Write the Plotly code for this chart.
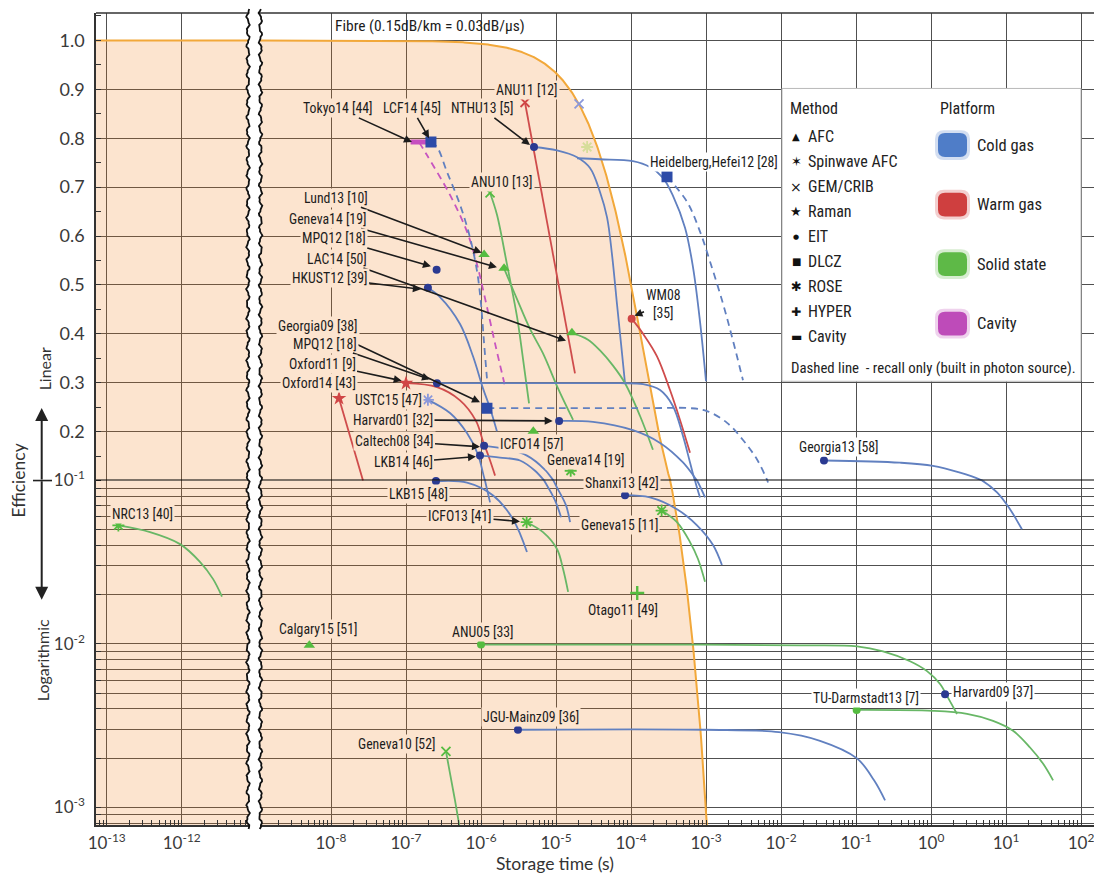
import math
import numpy as np
import plotly.graph_objects as go

# ---------------------------------------------------------------------------
# Data: storage time (s) and efficiency; the first point of each list is the
# experiment's reported marker, the rest trace its decay curve.
# ---------------------------------------------------------------------------
FIBRE_DB_PER_US = 0.03          # 0.15 dB/km  ==  0.03 dB/us

tokyo14_t = [1.49e-7, 1.91e-7, 3.86e-7, 6.5e-7, 8.85e-7, 1.1e-6, 1.54e-6, 2.09e-6]
tokyo14_eta = [0.792, 0.765, 0.684, 0.609, 0.542, 0.481, 0.380, 0.293]

lcf14_t = [2.15e-7, 2.59e-7, 3.52e-7, 5.25e-7, 7.13e-7, 8.85e-7, 1.0e-6, 1.1e-6, 1.2e-6]
lcf14_eta = [0.792, 0.782, 0.731, 0.664, 0.597, 0.528, 0.461, 0.380, 0.309]

nthu13_t = [5.09e-6, 1.03e-5, 1.91e-5, 2.84e-5, 3.86e-5, 4.79e-5, 5.58e-5, 6.5e-5, 7.36e-5, 8.32e-5]
nthu13_eta = [0.782, 0.775, 0.761, 0.739, 0.690, 0.638, 0.562, 0.461, 0.380, 0.299]

anu11_t = [3.86e-6, 1.79e-5]
anu11_eta = [0.873, 0.319]

anu_cold_t = [2.03e-5]
anu_cold_eta = [0.870]

faded_t = [2.6e-5]
faded_eta = [0.782]

heidelberg_t = [1.91e-5, 3.86e-5, 1.06e-4, 1.79e-4, 2.67e-4, 3.63e-4, 5.25e-4, 6.71e-4, 8.32e-4, 1.0e-3]
heidelberg_eta = [0.759, 0.757, 0.753, 0.741, 0.719, 0.682, 0.617, 0.536, 0.425, 0.303]

hefei12_t = [3.02e-4, 5.58e-4, 8.32e-4, 1.13e-3, 1.69e-3, 2.29e-3, 3.11e-3]
hefei12_eta = [0.721, 0.670, 0.609, 0.548, 0.461, 0.386, 0.305]

anu10_t = [1.32e-6, 1.63e-6, 2.22e-6, 3.02e-6, 3.63e-6, 4.37e-6]
anu10_eta = [0.688, 0.644, 0.542, 0.435, 0.349, 0.258]

lund13_t = [1.1e-6]
lund13_eta = [0.562]

geneva14_t = [2.03e-6, 3.02e-6, 4.5e-6, 6.71e-6, 1.06e-5, 1.69e-5]
geneva14_eta = [0.534, 0.471, 0.410, 0.360, 0.289, 0.224]

mpq12a_t = [2.56e-7]
mpq12a_eta = [0.531]

lac14_t = [1.63e-5, 2.67e-5, 3.86e-5, 5.75e-5, 8.32e-5, 1.32e-4, 1.96e-4]
lac14_eta = [0.402, 0.388, 0.366, 0.335, 0.299, 0.232, 0.163]

hkust12_t = [1.96e-7, 2.84e-7, 5.25e-7, 7.82e-7, 1.06e-6, 1.32e-6, 1.63e-6]
hkust12_eta = [0.494, 0.475, 0.420, 0.354, 0.289, 0.248, 0.201]

wm08_t = [1.02e-4, 1.45e-4, 2.22e-4, 3.31e-4, 4.5e-4, 6.12e-4]
wm08_eta = [0.431, 0.400, 0.354, 0.285, 0.224, 0.157]

georgia09_t = [1.2e-6, 1.13e-5, 1.79e-4, 6.12e-4, 1.03e-3, 1.91e-3, 3.11e-3, 4.79e-3, 6.71e-3]
georgia09_eta = [0.248, 0.248, 0.248, 0.248, 0.242, 0.218, 0.183, 0.143, 0.0972]

mpq12b_t = [2.59e-7, 1.79e-6, 1.13e-5, 7.13e-5, 1.45e-4, 2.44e-4, 3.63e-4, 4.93e-4, 6.12e-4, 7.13e-4, 8.32e-4]
mpq12b_eta = [0.299, 0.299, 0.299, 0.299, 0.297, 0.285, 0.252, 0.191, 0.137, 0.100, 0.0788]

oxford11_t = [1.0e-7, 2.59e-7, 5.25e-7, 8.57e-7, 1.06e-6, 1.28e-6, 1.54e-6]
oxford11_eta = [0.299, 0.291, 0.264, 0.222, 0.181, 0.147, 0.110]

oxford14_t = [1.28e-8, 2.67e-8]
oxford14_eta = [0.268, 0.100]

ustc15_t = [1.96e-7, 3.86e-7, 6.5e-7, 9.12e-7, 1.13e-6, 1.32e-6]
ustc15_eta = [0.265, 0.238, 0.197, 0.153, 0.100, 0.0735]

harvard01_t = [1.1e-5, 3.11e-5, 1.06e-4, 2.44e-4, 4.93e-4, 7.59e-4, 9.7e-4]
harvard01_eta = [0.222, 0.220, 0.203, 0.177, 0.137, 0.100, 0.0788]

icfo14_t = [4.98e-6]
icfo14_eta = [0.201]

caltech08_t = [1.1e-6, 2.09e-6, 4.1e-6, 7.13e-6, 1.03e-5, 1.36e-5, 1.54e-5]
caltech08_eta = [0.171, 0.165, 0.151, 0.122, 0.0906, 0.0705, 0.0556]

lkb14_t = [9.7e-7, 1.79e-6, 3.31e-6, 5.25e-6, 7.59e-6, 9.7e-6, 1.17e-5]
lkb14_eta = [0.151, 0.147, 0.141, 0.120, 0.0933, 0.0756, 0.0596]

geneva14b_t = [1.57e-5]
geneva14b_eta = [0.120]

lkb15_t = [2.51e-7, 6.5e-7, 1.45e-6, 2.67e-6, 4.1e-6]
lkb15_eta = [0.099, 0.0972, 0.081, 0.058, 0.0365]

shanxi13_t = [8.32e-5, 1.79e-4, 4.1e-4, 7.59e-4, 1.24e-3, 1.63e-3]
shanxi13_eta = [0.0814, 0.0788, 0.0667, 0.0532, 0.0403, 0.0304]

geneva15_t = [2.56e-4, 4.1e-4, 6.12e-4, 7.82e-4, 9.7e-4]
geneva15_eta = [0.0655, 0.0556, 0.042, 0.0331, 0.024]

icfo13_t = [4.06e-6, 6.71e-6, 1.03e-5, 1.24e-5, 1.45e-5]
icfo13_eta = [0.0556, 0.0483, 0.0381, 0.0288, 0.0208]

georgia13_t = [0.0374, 0.386, 1.06, 2.44, 4.5, 7.59, 11.3, 16.3]
georgia13_eta = [0.141, 0.1365, 0.130, 0.116, 0.102, 0.0846, 0.0667, 0.0503]

nrc13_t = [1.43e-13, 3.78e-13, 9.5e-13, 1.75e-12, 2.61e-12, 3.44e-12]
nrc13_eta = [0.0531, 0.0483, 0.0408, 0.0318, 0.025, 0.0195]

calgary15_t = [5.14e-9]
calgary15_eta = [0.0098]

anu05_t = [1.0e-6, 8.3e-4, 0.0179, 0.103, 0.229, 0.525, 0.885, 1.32, 1.69, 2.22]
anu05_eta = [0.0099, 0.0099, 0.0098, 0.00966, 0.009, 0.00783, 0.00681, 0.00568, 0.00467, 0.00372]

otago11_t = [1.21e-4]
otago11_eta = [0.0205]

jgu09_t = [3.11e-6, 9.7e-4, 9.4e-3, 0.0331, 0.103, 0.174, 0.244]
jgu09_eta = [0.00298, 0.00298, 0.00288, 0.00255, 0.00199, 0.00146, 0.0011]

tud13_t = [0.102, 1.06, 3.02, 6.71, 12.4, 20.9, 31.1, 42.4]
tud13_eta = [0.00394, 0.00389, 0.00373, 0.00338, 0.00294, 0.00232, 0.00185, 0.00146]

harvard09_t = [1.54]
harvard09_eta = [0.00491]

geneva10_t = [3.41e-7, 3.86e-7, 4.5e-7, 5.25e-7]
geneva10_eta = [0.0022, 0.00161, 0.0011, 0.00073]

# (platform, method, times, efficiencies, line style)
experiments = [
    ("cavity", "Cavity", tokyo14_t, tokyo14_eta, "dash"),
    ("cold", "DLCZ", lcf14_t, lcf14_eta, "dash"),
    ("cold", "EIT", nthu13_t, nthu13_eta, "solid"),
    ("warm", "GEM/CRIB", anu11_t, anu11_eta, "straight"),
    ("coldpale", "GEM/CRIB", anu_cold_t, anu_cold_eta, None),
    ("faded", "Spinwave AFC", faded_t, faded_eta, None),
    ("cold", None, heidelberg_t, heidelberg_eta, "solid"),
    ("cold", "DLCZ", hefei12_t, hefei12_eta, "dash"),
    ("solid", "GEM/CRIB", anu10_t, anu10_eta, "solid"),
    ("solid", "AFC", lund13_t, lund13_eta, None),
    ("solid", "AFC", geneva14_t, geneva14_eta, "solid"),
    ("cold", "EIT", mpq12a_t, mpq12a_eta, None),
    ("solid", "AFC", lac14_t, lac14_eta, "solid"),
    ("cold", "EIT", hkust12_t, hkust12_eta, "solid"),
    ("warm", "EIT", wm08_t, wm08_eta, "solid"),
    ("cold", "DLCZ", georgia09_t, georgia09_eta, "dash"),
    ("cold", "EIT", mpq12b_t, mpq12b_eta, "solid"),
    ("warm", "Raman", oxford11_t, oxford11_eta, "solid"),
    ("warm", "Raman", oxford14_t, oxford14_eta, "straight"),
    ("coldpale", "Spinwave AFC", ustc15_t, ustc15_eta, "solid"),
    ("cold", "EIT", harvard01_t, harvard01_eta, "solid"),
    ("solid", "AFC", icfo14_t, icfo14_eta, None),
    ("cold", "EIT", caltech08_t, caltech08_eta, "solid"),
    ("cold", "EIT", lkb14_t, lkb14_eta, "solid"),
    ("solid", "Spinwave AFC", geneva14b_t, geneva14b_eta, None),
    ("cold", "EIT", lkb15_t, lkb15_eta, "solid"),
    ("cold", "EIT", shanxi13_t, shanxi13_eta, "solid"),
    ("solid", "Spinwave AFC", geneva15_t, geneva15_eta, "solid"),
    ("solid", "Spinwave AFC", icfo13_t, icfo13_eta, "solid"),
    ("cold", "EIT", georgia13_t, georgia13_eta, "solid"),
    ("solid", "Spinwave AFC", nrc13_t, nrc13_eta, "solid"),
    ("solid", "AFC", calgary15_t, calgary15_eta, None),
    ("solid", "EIT", anu05_t, anu05_eta, "solid"),
    ("solid", "HYPER", otago11_t, otago11_eta, None),
    ("cold", "EIT", jgu09_t, jgu09_eta, "solid"),
    ("solid", "EIT", tud13_t, tud13_eta, "solid"),
    ("cold", "EIT", harvard09_t, harvard09_eta, None),
    ("solid", "GEM/CRIB", geneva10_t, geneva10_eta, "solid"),
]

# Labels: text, text position (t, eta), arrow tip (t, eta) or None, background
PEACH = "#FCE4CF"
WHITE = "#FFFFFF"
labels = [
    ("ANU11 [12]", 4.1e-6, 0.899, None, PEACH),
    ("Tokyo14 [44]", 1.24e-8, 0.861, (1.2e-7, 0.792), PEACH),
    ("LCF14 [45]", 1.2e-7, 0.861, (2.03e-7, 0.80), PEACH),
    ("NTHU13 [5]", 1.03e-6, 0.861, (4.5e-6, 0.786), PEACH),
    ("ANU10 [13]", 1.9e-6, 0.711, None, PEACH),
    ("Lund13 [10]", 1.15e-8, 0.678, (1.02e-6, 0.566), PEACH),
    ("Geneva14 [19]", 9.1e-9, 0.635, (1.63e-6, 0.536), PEACH),
    ("MPQ12 [18]", 1.11e-8, 0.595, (2.15e-7, 0.538), PEACH),
    ("LAC14 [50]", 1.2e-8, 0.554, (1.36e-5, 0.386), PEACH),
    ("HKUST12 [39]", 9.55e-9, 0.514, (1.58e-7, 0.491), PEACH),
    ("WM08<br>[35]", 2.67e-4, 0.461, (1.11e-4, 0.437), WHITE),
    ("Heidelberg,Hefei12 [28]", 1.28e-3, 0.751, None, WHITE),
    ("Georgia09 [38]", 6.7e-9, 0.416, (9.7e-7, 0.26), PEACH),
    ("MPQ12 [18]", 8.3e-9, 0.38, (2.09e-7, 0.307), PEACH),
    ("Oxford11 [9]", 7.6e-9, 0.339, (8.77e-8, 0.304), PEACH),
    ("Oxford14 [43]", 6.9e-9, 0.299, None, PEACH),
    ("USTC15 [47]", 5.93e-8, 0.264, None, PEACH),
    ("Harvard01 [32]", 6.71e-8, 0.224, (9.03e-6, 0.222), PEACH),
    ("ICFO14 [57]", 4.79e-6, 0.175, None, PEACH),
    ("Caltech08 [34]", 6.92e-8, 0.181, (9.7e-7, 0.169), PEACH),
    ("LKB14 [46]", 9.12e-8, 0.137, (8.57e-7, 0.149), PEACH),
    ("Geneva14 [19]", 2.51e-5, 0.143, None, PEACH),
    ("LKB15 [48]", 1.49e-7, 0.0822, None, PEACH),
    ("Shanxi13 [42]", 7.59e-5, 0.0972, None, PEACH),
    ("ICFO13 [41]", 5.25e-7, 0.0604, (3.31e-6, 0.0561), PEACH),
    ("Geneva15 [11]", 7.13e-5, 0.0532, None, PEACH),
    ("Georgia13 [58]", 0.0585, 0.169, None, WHITE),
    ("Otago11 [49]", 7.82e-5, 0.0162, None, PEACH),
    ("Calgary15 [51]", 6.7e-9, 0.01225, None, PEACH),
    ("ANU05 [33]", 1.06e-6, 0.0119, None, PEACH),
    ("Geneva10 [52]", 7.36e-8, 0.00245, None, PEACH),
    ("JGU-Mainz09 [36]", 4.64e-6, 0.00357, None, PEACH),
    ("TU-Darmstadt13 [7]", 0.136, 0.00467, None, WHITE),
    ("Harvard09 [37]", 6.71, 0.00507, None, WHITE),
    ("NRC13 [40]", 2.96e-13, 0.0621, None, PEACH),
]
fibre_label = "Fibre (0.15dB/km = 0.03dB/μs)"

legend_methods = ["AFC", "Spinwave AFC", "GEM/CRIB", "Raman", "EIT", "DLCZ", "ROSE", "HYPER", "Cavity"]
legend_glyphs = ["▲", "✶", "×", "★", "●", "■", "✱", "✚", "▬"]
legend_glyph_sizes = [10, 13, 14, 13, 7, 10, 13, 12, 12]
legend_platforms = ["Cold gas", "Warm gas", "Solid state", "Cavity"]
legend_platform_colors = ["#4F7DC8", "#CF3F3F", "#5EB947", "#BE4BB9"]

x_left_ticks = [1e-13, 1e-12]
x_right_ticks = [1e-8, 1e-7, 1e-6, 1e-5, 1e-4, 1e-3, 1e-2, 1e-1, 1e0, 1e1, 1e2]
y_lin_ticks = [0.2, 0.3, 0.4, 0.5, 0.6, 0.7, 0.8, 0.9, 1.0]
y_log_ticks = [1e-3, 1e-2, 1e-1]

# ---------------------------------------------------------------------------
# Layout geometry
# ---------------------------------------------------------------------------
FIG_W, FIG_H = 1094, 874
M_L, M_R, M_T, M_B = 96, 0, 7, 49
PLOT_W = FIG_W - M_L - M_R
PLOT_H = FIG_H - M_T - M_B


def px_x(px):
    return (px - M_L) / PLOT_W


def px_y(py):
    return (FIG_H - M_B - py) / PLOT_H


LEFT_DOM = [0.0, px_x(249)]
RIGHT_DOM = [px_x(259), 1.0]
Y_SPLIT = px_y(478)

NARROW = "Liberation Sans Narrow, Roboto Condensed, Roboto, Liberation Sans, sans-serif"
LABEL_FONT = dict(family=NARROW, size=13.8, color="#1c1c1c")
TICK_FONT = dict(family="Lato, Open Sans, sans-serif", size=17, color="#3a3a3a")
GRID = "#505050"

PLATFORM = {
    "cold": dict(line="#6180C0", mark="#2B3A92"),
    "coldpale": dict(line="#6180C0", mark="#8B98DA"),
    "warm": dict(line="#CF4C4C", mark="#D04545"),
    "solid": dict(line="#68B766", mark="#55BC40"),
    "cavity": dict(line="#C755C0", mark="#C64FC0"),
    "faded": dict(line="#D6DD9A", mark="#D6DD9A"),
}
DLCZ_COLOR = "#2D4BA8"

SYMBOLS = {
    "AFC": dict(symbol="triangle-up", size=10, lw=0),
    "Spinwave AFC": dict(symbol="asterisk-open", size=10, lw=1.8),
    "GEM/CRIB": dict(symbol="x-thin-open", size=9, lw=1.8),
    "Raman": dict(symbol="star", size=11, lw=0),
    "EIT": dict(symbol="circle", size=8, lw=0),
    "DLCZ": dict(symbol="square", size=11, lw=0),
    "HYPER": dict(symbol="cross-thin-open", size=10, lw=2.4),
    "Cavity": dict(symbol="line-ew-open", size=12, lw=5),
}

fig = go.Figure()


def x_axis_for(t):
    return "x" if t < 1e-10 else "x2"


# ---- fibre transmission and the shaded region beneath it ----
t_fibre = np.logspace(-9.2, math.log10(1.15e-3), 700)
eta_fibre = 10 ** (-FIBRE_DB_PER_US * (t_fibre / 1e-6) / 10)
t_left = np.array([1e-14, 1e-10])
eta_left = 10 ** (-FIBRE_DB_PER_US * (t_left / 1e-6) / 10)

FILL = "rgba(240,120,15,0.2)"
for ya in ("y", "y2"):
    fig.add_trace(go.Scatter(
        x=[t_left[0], t_left[0], t_left[1], t_left[1]], y=[1e-6, eta_left[0], eta_left[1], 1e-6],
        fill="toself", fillcolor=FILL, line=dict(width=0), mode="lines",
        xaxis="x", yaxis=ya, hoverinfo="skip", showlegend=False))
    fig.add_trace(go.Scatter(
        x=np.concatenate([[t_fibre[0]], t_fibre, [t_fibre[-1]]]),
        y=np.concatenate([[1e-6], eta_fibre, [1e-6]]),
        fill="toself", fillcolor=FILL, line=dict(width=0), mode="lines",
        xaxis="x2", yaxis=ya, hoverinfo="skip", showlegend=False))

FIBRE_COLOR = "#F2A83A"
fig.add_trace(go.Scatter(x=t_left, y=eta_left, mode="lines", line=dict(color=FIBRE_COLOR, width=2),
                         xaxis="x", yaxis="y", hoverinfo="skip", showlegend=False))
for ya in ("y", "y2"):
    fig.add_trace(go.Scatter(x=t_fibre, y=eta_fibre, mode="lines",
                             line=dict(color=FIBRE_COLOR, width=2),
                             xaxis="x2", yaxis=ya, hoverinfo="skip", showlegend=False))

# ---- decay curves ----
for platform, method, ts, etas, style in experiments:
    if style is None or len(ts) < 2:
        continue
    xa = x_axis_for(ts[0])
    panels = []
    if max(etas) >= 0.1:
        panels.append("y")
    if min(etas) <= 0.1:
        panels.append("y2")
    color = PLATFORM[platform]["line"]
    line = dict(color=color, width=1.8)
    if style == "dash":
        line.update(dash="7px,5px", shape="spline", smoothing=1.0)
    elif style == "straight":
        line.update(shape="linear")
    else:
        line.update(shape="spline", smoothing=1.0)
    for ya in panels:
        fig.add_trace(go.Scatter(x=ts, y=etas, mode="lines", line=line,
                                 xaxis=xa, yaxis=ya, hoverinfo="skip", showlegend=False))

# ---- experiment markers ----
for platform, method, ts, etas, style in experiments:
    if method is None:
        continue
    xa = x_axis_for(ts[0])
    sym = SYMBOLS[method]
    color = DLCZ_COLOR if method == "DLCZ" else PLATFORM[platform]["mark"]
    marker = dict(symbol=sym["symbol"], size=sym["size"], color=color,
                  line=dict(color=color, width=sym["lw"]))
    panels = ["y"] if etas[0] > 0.1005 else (["y2"] if etas[0] < 0.0985 else ["y", "y2"])
    for ya in panels:
        fig.add_trace(go.Scatter(x=[ts[0]], y=[etas[0]], mode="markers", marker=marker,
                                 xaxis=xa, yaxis=ya, hoverinfo="skip", showlegend=False))

# ---- annotations: experiment labels ----
annotations = []


def yval(ya, v):
    return v if ya == "y" else math.log10(v)


for text, t, eta, tip, bg in labels:
    xa = x_axis_for(t)
    ya = "y" if eta >= 0.1 else "y2"
    ann = dict(text=text, xref=xa, yref=ya, font=LABEL_FONT, bgcolor=bg, borderpad=1,
               xanchor="center", yanchor="middle")
    if tip is None:
        ann.update(x=math.log10(t), y=yval(ya, eta), showarrow=False)
    else:
        ann.update(x=math.log10(tip[0]), y=yval(ya, tip[1]),
                   ax=math.log10(t), ay=yval(ya, eta), axref=xa, ayref=ya,
                   showarrow=True, arrowhead=2, arrowsize=1.0, arrowwidth=1.6,
                   arrowcolor="#1c1c1c", standoff=0)
    annotations.append(ann)


def paper_text(text, xpx, ypx, font, xanchor="center", **kw):
    d = dict(text=text, x=px_x(xpx), y=px_y(ypx), xref="paper", yref="paper",
             xanchor=xanchor, yanchor="middle", showarrow=False, font=font)
    d.update(kw)
    return d


annotations.append(paper_text(fibre_label, 430, 20, dict(LABEL_FONT, size=15.5)))

# ---- axis titles and the linear/log arrows ----
TITLE_FONT = dict(family="Lato, Open Sans, sans-serif", size=17.5, color="#333333")
annotations += [
    paper_text("Storage time (s)", 555, 864, TITLE_FONT),
    paper_text("Efficiency", 19, 478, TITLE_FONT, textangle=-90),
    paper_text("Linear", 44, 366, dict(TITLE_FONT, size=16), textangle=-90),
    paper_text("Logarithmic", 42, 659, dict(TITLE_FONT, size=16), textangle=-90),
    dict(text="", x=px_x(41.7), y=px_y(405), xref="paper", yref="paper", ax=0, ay=73,
         showarrow=True, arrowhead=2, arrowsize=1.3, arrowwidth=2, arrowcolor="#222"),
    dict(text="", x=px_x(41.7), y=px_y(598), xref="paper", yref="paper", ax=0, ay=-120,
         showarrow=True, arrowhead=2, arrowsize=1.3, arrowwidth=2, arrowcolor="#222"),
]

# ---- method / platform key ----
KEY_FONT = dict(family=NARROW, size=16, color="#222222")
annotations.append(paper_text("Method", 788, 103, KEY_FONT, xanchor="left"))
annotations.append(paper_text("Platform", 938, 103, KEY_FONT, xanchor="left"))
for i, (name, glyph, gs) in enumerate(zip(legend_methods, legend_glyphs, legend_glyph_sizes)):
    ypx = 131.7 + i * 25.2
    annotations.append(paper_text(glyph, 796, ypx,
                                  dict(family="DejaVu Sans", size=gs, color="#111111")))
    annotations.append(paper_text(name, 806, ypx, KEY_FONT, xanchor="left"))
for i, name in enumerate(legend_platforms):
    annotations.append(paper_text(name, 975, 140 + i * 60, dict(KEY_FONT, size=16.5), xanchor="left"))
annotations.append(paper_text("Dashed line  - recall only (built in photon source).", 789, 365,
                              dict(KEY_FONT, size=14.8), xanchor="left"))

# ---------------------------------------------------------------------------
# Shapes: borders, the 0.1 divider, axis break and key box
# ---------------------------------------------------------------------------
shapes = []
for dom in ("x domain", "x2 domain"):
    shapes.append(dict(type="line", xref=dom, yref="paper", x0=0, x1=1, y0=1, y1=1,
                       line=dict(color="#333333", width=1.5), layer="above"))
    shapes.append(dict(type="line", xref=dom, yref="y", x0=0, x1=1, y0=0.1, y1=0.1,
                       line=dict(color="#000000", width=2), layer="above"))


def wave(x_center, phase):
    ys = np.arange(3.0, 830.0, 2.0)
    xs = x_center + 1.3 * np.sin(ys / 2.3 + phase) + 0.6 * np.sin(ys / 0.95 + 2.1 * phase)
    return xs, ys


wl_x, wl_y = wave(248.0, 0.0)
wr_x, wr_y = wave(260.5, 1.7)
gap_pts = list(zip(wl_x, wl_y)) + list(zip(wr_x[::-1], wr_y[::-1]))
gap_path = "M " + " L ".join(f"{px_x(a):.5f},{px_y(b):.5f}" for a, b in gap_pts) + " Z"
shapes.append(dict(type="path", path=gap_path, xref="paper", yref="paper",
                   fillcolor="white", line=dict(width=0), layer="above"))
for xs, ys in ((wl_x, wl_y), (wr_x, wr_y)):
    p = "M " + " L ".join(f"{px_x(a):.5f},{px_y(b):.5f}" for a, b in zip(xs, ys))
    shapes.append(dict(type="path", path=p, xref="paper", yref="paper",
                       line=dict(color="#111111", width=1.8), layer="above"))

# small cross-bar on the efficiency arrow at the linear/log boundary
shapes.append(dict(type="line", xref="paper", yref="paper", x0=px_x(33), x1=px_x(52),
                   y0=Y_SPLIT, y1=Y_SPLIT, line=dict(color="#222", width=1.6)))

# key box
shapes.append(dict(type="rect", xref="paper", yref="paper", x0=px_x(782), x1=px_x(1081),
                   y0=px_y(378), y1=px_y(83), fillcolor="white",
                   line=dict(color="#B8B8B8", width=1), layer="above"))


def rounded_rect(x0, y0, x1, y1, r):
    pts = [("M", x0 + r, y0), ("L", x1 - r, y0), ("Q", x1, y0, x1, y0 + r), ("L", x1, y1 - r),
           ("Q", x1, y1, x1 - r, y1), ("L", x0 + r, y1), ("Q", x0, y1, x0, y1 - r),
           ("L", x0, y0 + r), ("Q", x0, y0, x0 + r, y0)]
    out = []
    for p in pts:
        cmd, vals = p[0], p[1:]
        coords = " ".join(f"{px_x(vals[k]):.5f},{px_y(vals[k + 1]):.5f}" for k in range(0, len(vals), 2))
        out.append(f"{cmd} {coords}")
    return " ".join(out) + " Z"


for i, col in enumerate(legend_platform_colors):
    cy = 140 + i * 60
    shapes.append(dict(type="path", path=rounded_rect(935, cy - 15, 970, cy + 15, 9), xref="paper",
                       yref="paper", fillcolor=col, opacity=0.25, line=dict(width=0), layer="above"))
    shapes.append(dict(type="path", path=rounded_rect(938, cy - 12, 967, cy + 12, 7), xref="paper",
                       yref="paper", fillcolor=col, line=dict(width=0), layer="above"))

# ---------------------------------------------------------------------------
# Axes
# ---------------------------------------------------------------------------
def sup_label(v):
    return f"10<sup>{int(round(math.log10(v)))}</sup>"


common_x = dict(type="log", showgrid=True, gridcolor=GRID, gridwidth=1.1, zeroline=False,
                showline=True, linecolor="#333333", linewidth=1.5, ticks="",
                tickfont=TICK_FONT, tickmode="array", anchor="y2", ticklabelstandoff=2,
                ticklabeloverflow="allow",
                minor=dict(ticks="inside", ticklen=5, tickcolor="#333333", dtick="D1", showgrid=False))

fig.update_layout(
    width=FIG_W, height=FIG_H,
    margin=dict(l=M_L, r=M_R, t=M_T, b=M_B),
    paper_bgcolor="white", plot_bgcolor="white",
    hovermode=False, showlegend=False,
    xaxis=dict(common_x, domain=LEFT_DOM, range=[-13.143, -11.103],
               tickvals=x_left_ticks, ticktext=[sup_label(v) for v in x_left_ticks]),
    xaxis2=dict(common_x, domain=RIGHT_DOM, range=[-8.96, 2.173],
                tickvals=x_right_ticks, ticktext=[sup_label(v) for v in x_right_ticks]),
    yaxis=dict(type="linear", domain=[Y_SPLIT, 1.0], range=[0.1, 1.056], anchor="x",
               tickmode="array", tickvals=y_lin_ticks, ticktext=[f"{v:.1f}" for v in y_lin_ticks],
               showgrid=True, gridcolor=GRID, gridwidth=1.1, zeroline=False,
               showline=True, linecolor="#333333", linewidth=1.5, ticks="",
               tickfont=dict(TICK_FONT, size=18), ticklabelstandoff=6,
               minor=dict(ticks="inside", ticklen=5, tickcolor="#333333", dtick=0.05, tick0=0,
                          showgrid=False)),
    yaxis2=dict(type="log", domain=[0.0, Y_SPLIT], range=[-3.109, -1.0], anchor="x",
                tickmode="array", tickvals=y_log_ticks, ticktext=[sup_label(v) for v in y_log_ticks],
                showgrid=True, gridcolor=GRID, gridwidth=1.1, zeroline=False,
                showline=True, linecolor="#333333", linewidth=1.5, ticks="",
                tickfont=TICK_FONT, ticklabelstandoff=6,
                minor=dict(ticks="inside", ticklen=5, tickcolor="#333333", dtick="D1",
                           showgrid=True, gridcolor=GRID, gridwidth=1.1)),
    annotations=annotations,
    shapes=shapes,
)

fig.write_html("out.html")
